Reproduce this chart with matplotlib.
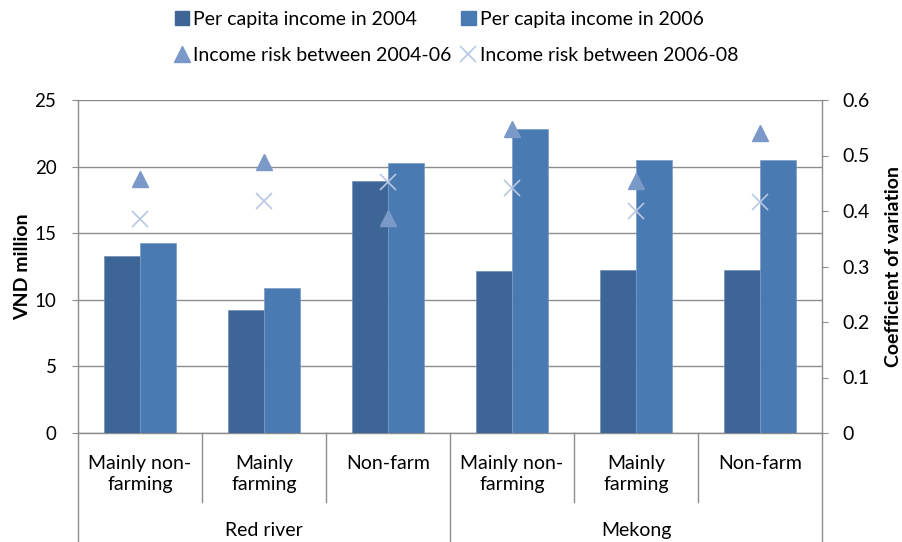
import matplotlib.pyplot as plt
from matplotlib.lines import Line2D
from matplotlib.patches import Patch
import numpy as np

plt.rcParams['font.family'] = ['Lato', 'DejaVu Sans']

# data
categories = ['Mainly non-\nfarming', 'Mainly\nfarming', 'Non-farm',
              'Mainly non-\nfarming', 'Mainly\nfarming', 'Non-farm']
regions = ['Red river', 'Mekong']
income_2004 = [13.3, 9.2, 18.9, 12.15, 12.25, 12.25]
income_2006 = [14.25, 10.85, 20.3, 22.8, 20.5, 20.5]
risk_0406 = [0.457, 0.488, 0.388, 0.547, 0.454, 0.541]
risk_0608 = [0.386, 0.418, 0.453, 0.442, 0.400, 0.416]

c2004 = '#3d6696'
c2006 = '#4a7ab2'
c_tri = '#7a98c8'
c_x = '#b8c7e3'
grey = '#8c8c8c'
fs = 14

fig = plt.figure(figsize=(9.02, 5.42), dpi=100)
ax = fig.add_axes([78 / 902, 109 / 542, 744 / 902, 333 / 542])
ax2 = ax.twinx()

x = np.arange(len(categories))
w = 0.287
ax.bar(x - w / 2, income_2004, w, color=c2004, edgecolor='#6f8fb8', linewidth=0.5, zorder=3)
ax.bar(x + w / 2, income_2006, w, color=c2006, edgecolor='#7a9bc6', linewidth=0.5, zorder=3)
ax2.plot(x, risk_0406, linestyle='none', marker='^', ms=12, color=c_tri, zorder=4)
ax2.plot(x, risk_0608, linestyle='none', marker='x', ms=11, mew=1.2, color=c_x, zorder=4)

ax.set_xlim(-0.5, len(categories) - 0.5)
ax.set_ylim(0, 25)
ax.set_yticks(range(0, 26, 5))
ax2.set_ylim(0, 0.6)
ax2.set_yticks(np.arange(0, 0.61, 0.1))
ax2.set_yticklabels(['0', '0.1', '0.2', '0.3', '0.4', '0.5', '0.6'])
ax.set_xticks([])

ax.yaxis.grid(True, color=grey, linewidth=1.0, zorder=0)
ax.set_axisbelow(True)
for a in (ax, ax2):
    a.spines['top'].set_visible(False)
    for s in ('left', 'right', 'bottom'):
        a.spines[s].set_color(grey)
        a.spines[s].set_linewidth(1.0)
    a.tick_params(axis='y', direction='out', length=4.5, color=grey)
ax.tick_params(axis='y', pad=11, labelsize=13.5)
ax2.tick_params(axis='y', pad=10.5, labelsize=fs)
ax.spines['right'].set_visible(False)
ax2.spines['left'].set_visible(False)
ax2.spines['bottom'].set_visible(False)

ax.set_ylabel('VND million', fontsize=fs, fontweight='bold')
ax.yaxis.set_label_coords(-0.063, 0.5)
ax2.set_ylabel('Coefficient of variation', fontsize=fs, fontweight='bold')
ax2.yaxis.set_label_coords(1.085, 0.5)

# category and region labels below the axis
tr = ax.get_xaxis_transform()
for i, lab in enumerate(categories):
    ax.text(i, -0.065, lab, transform=tr, ha='center', va='top', fontsize=fs, linespacing=1.3)
for xs in (0.5, 1.5, 3.5, 4.5):
    ax.add_line(Line2D([xs, xs], [0, -0.207], transform=tr, color=grey, lw=1.0, clip_on=False))
for xs in (-0.5, 2.5, 5.5):
    ax.add_line(Line2D([xs, xs], [0, -0.33], transform=tr, color=grey, lw=1.0, clip_on=False))
for j, reg in enumerate(regions):
    ax.text(1 + 3 * j, -0.292, reg, transform=tr, ha='center', va='center', fontsize=fs)

handles = [Patch(color=c2004), Line2D([], [], ls='none', marker='^', ms=12, color=c_tri),
           Patch(color=c2006), Line2D([], [], ls='none', marker='x', ms=11, mew=1.2, color=c_x)]
labels = ['Per capita income in 2004', 'Income risk between 2004-06',
          'Per capita income in 2006', 'Income risk between 2006-08']
fig.legend(handles, labels, ncol=2, loc='upper left', bbox_to_anchor=(157 / 902, 1.012),
           frameon=False, fontsize=fs, handlelength=0.75, handleheight=0.75,
           handletextpad=0.2, columnspacing=0.5, labelspacing=1.0)

fig.savefig('out.png', dpi=100)
